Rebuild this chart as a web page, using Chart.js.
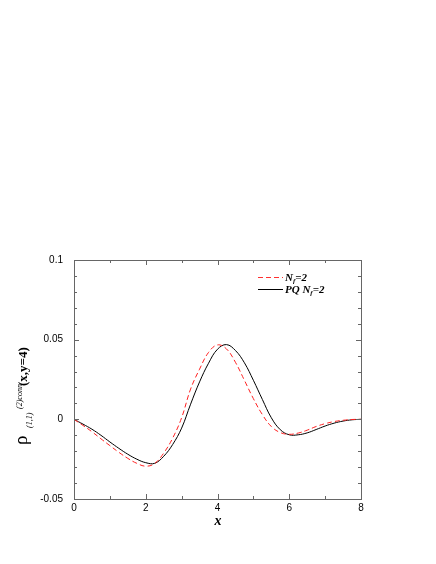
<!DOCTYPE html>
<html>
<head>
<meta charset="utf-8">
<script src="https://cdn.jsdelivr.net/npm/chart.js@4.4.0/dist/chart.umd.min.js"></script>
<style>
html, body { margin: 0; padding: 0; background: #fff; }
</style>
</head>
<body>
<canvas id="chart" width="436" height="564"></canvas>
<script>
// x grid of the two curves
const xValues = [0, 0.25, 0.5, 0.75, 1, 1.25, 1.5, 1.75, 2, 2.25, 2.5, 2.75, 3, 3.25, 3.5, 3.75,
    4, 4.25, 4.5, 4.75, 5, 5.25, 5.5, 5.75, 6, 6.25, 6.5, 6.75, 7, 7.25, 7.5, 7.75, 8];
// N_f=2 (red dashed)
const nfValues = [0, -0.0038, -0.0078, -0.0122, -0.0165, -0.0207, -0.0245, -0.0276, -0.0294, -0.0277,
    -0.0212, -0.0118, 0.0010, 0.0190, 0.0315, 0.0420, 0.0467, 0.0442, 0.0358, 0.0245, 0.0130, 0.0030,
    -0.0045, -0.0083, -0.0094, -0.0086, -0.0068, -0.0045, -0.0027, -0.0014, -0.0006, -0.0001, 0];
// PQ N_f=2 (black solid)
const pqValues = [0, -0.0030, -0.0062, -0.0100, -0.0142, -0.0182, -0.0219, -0.0250, -0.0272, -0.0276,
    -0.0232, -0.0158, -0.0055, 0.0095, 0.0235, 0.0352, 0.0440, 0.0469, 0.0432, 0.0355, 0.0245, 0.0125,
    0.0010, -0.0065, -0.0097, -0.0097, -0.0085, -0.0064, -0.0042, -0.0024, -0.0011, -0.0003, 0];
const xTicks = [0, 2, 4, 6, 8];
const xMinorTicks = [1, 3, 5, 7];
const yTicks = [-0.05, 0, 0.05, 0.1];
const yMinorTicks = [-0.04, -0.03, -0.02, -0.01, 0.01, 0.02, 0.03, 0.04, 0.06, 0.07, 0.08, 0.09];

const toPoints = ys => xValues.map((x, i) => ({ x: x, y: ys[i] }));

const serif = '"Liberation Serif", "Times New Roman", serif';
const frameColor = '#666';

// draws text pieces one after another, each with its own font and baseline shift
const drawPieces = (ctx, pieces, x, y) => {
    let cx = x;
    pieces.forEach(p => {
        ctx.font = p.font;
        ctx.fillText(p.text, cx, y + (p.dy || 0));
        cx += ctx.measureText(p.text).width + (p.gap || 0);
    });
};

const framePlugin = {
    id: 'frame',
    afterDraw(chart) {
        const ctx = chart.ctx;
        const a = chart.chartArea;
        const xs = chart.scales.x;
        const ys = chart.scales.y;
        ctx.save();
        ctx.strokeStyle = frameColor;
        ctx.lineWidth = 1;
        ctx.strokeRect(Math.round(a.left) + 0.5, Math.round(a.top) + 0.5,
            Math.round(a.right - a.left), Math.round(a.bottom - a.top));

        // inward ticks on all four sides
        ctx.beginPath();
        const xTick = (v, len) => {
            const px = Math.round(xs.getPixelForValue(v)) + 0.5;
            ctx.moveTo(px, a.bottom); ctx.lineTo(px, a.bottom - len);
            ctx.moveTo(px, a.top); ctx.lineTo(px, a.top + len);
        };
        const yTick = (v, len) => {
            const py = Math.round(ys.getPixelForValue(v)) + 0.5;
            ctx.moveTo(a.left, py); ctx.lineTo(a.left + len, py);
            ctx.moveTo(a.right, py); ctx.lineTo(a.right - len, py);
        };
        xTicks.forEach(v => xTick(v, 5));
        xMinorTicks.forEach(v => xTick(v, 3));
        yTicks.forEach(v => yTick(v, 5));
        yMinorTicks.forEach(v => yTick(v, 3));
        ctx.stroke();

        // legend
        ctx.lineWidth = 1;
        ctx.strokeStyle = '#ff3030';
        ctx.setLineDash([5, 3]);
        ctx.beginPath();
        ctx.moveTo(258, 277.5); ctx.lineTo(283, 277.5);
        ctx.stroke();
        ctx.setLineDash([]);
        ctx.strokeStyle = '#000';
        ctx.beginPath();
        ctx.moveTo(258, 289.5); ctx.lineTo(283, 289.5);
        ctx.stroke();

        ctx.fillStyle = '#000';
        ctx.textBaseline = 'alphabetic';
        ctx.textAlign = 'left';
        const big = 'italic bold 11px ' + serif;
        const small = 'italic bold 7px ' + serif;
        drawPieces(ctx, [
            { text: 'N', font: big },
            { text: 'f', font: small, dy: 2 },
            { text: '=2', font: big }
        ], 285, 281);
        drawPieces(ctx, [
            { text: 'PQ N', font: big },
            { text: 'f', font: small, dy: 2 },
            { text: '=2', font: big }
        ], 285, 293);

        // x title
        ctx.font = 'italic bold 14px ' + serif;
        ctx.textAlign = 'center';
        ctx.fillText('x', 218, 525);

        // y title, rotated
        ctx.translate(27, 445);
        ctx.rotate(-Math.PI / 2);
        ctx.textAlign = 'left';
        ctx.font = '19px ' + serif;
        ctx.fillText('\u03c1', 0, 0);
        ctx.font = 'italic 8px ' + serif;
        ctx.fillText('(1,1)', 17, 5);
        ctx.fillText('(2)conn', 36, -5);
        ctx.font = 'bold 13px ' + serif;
        ctx.fillText('(x,y=4)', 59, 0);
        ctx.restore();
    }
};

new Chart(document.getElementById('chart'), {
    type: 'line',
    data: {
        datasets: [
            {
                label: 'N_f=2',
                data: toPoints(nfValues),
                borderColor: '#ff2020',
                borderWidth: 1,
                borderDash: [5, 3],
                pointRadius: 0,
                tension: 0.4,
                fill: false
            },
            {
                label: 'PQ N_f=2',
                data: toPoints(pqValues),
                borderColor: '#000',
                borderWidth: 1,
                pointRadius: 0,
                tension: 0.4,
                fill: false
            }
        ]
    },
    options: {
        responsive: false,
        animation: false,
        devicePixelRatio: 1,
        layout: { padding: { left: 0, right: 75, top: 260, bottom: 0 } },
        plugins: {
            legend: { display: false },
            tooltip: { enabled: false }
        },
        scales: {
            x: {
                type: 'linear',
                min: 0,
                max: 8,
                afterBuildTicks: s => { s.ticks = xTicks.map(v => ({ value: v })); },
                afterFit: s => { s.height = 65; },
                grid: { display: false, drawTicks: false },
                border: { display: false },
                ticks: {
                    color: '#000',
                    padding: 3,
                    font: { family: 'Liberation Sans, Arial, sans-serif', size: 10 },
                    maxRotation: 0
                }
            },
            y: {
                type: 'linear',
                min: -0.05,
                max: 0.1,
                afterBuildTicks: s => { s.ticks = yTicks.map(v => ({ value: v })); },
                afterFit: s => { s.width = 74; },
                grid: { display: false, drawTicks: false },
                border: { display: false },
                ticks: {
                    color: '#000',
                    padding: 11,
                    font: { family: 'Liberation Sans, Arial, sans-serif', size: 10 },
                    callback: v => String(Math.round(v * 100) / 100)
                }
            }
        }
    },
    plugins: [framePlugin]
});
</script>
</body>
</html>
